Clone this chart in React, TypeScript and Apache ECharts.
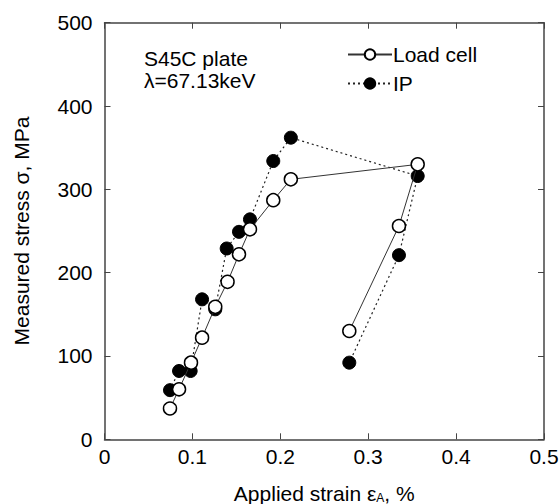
import React, { useEffect, useRef } from "react";
import * as echarts from "echarts";

const loadCellStrain = [0.0745, 0.0848, 0.0984, 0.111, 0.126, 0.14, 0.153, 0.1655, 0.192, 0.212, 0.3563, 0.335, 0.2785];
const loadCellStress = [37, 60, 92, 122, 159, 189, 222, 252, 287, 312, 330, 256, 130];
const ipStrain = [0.0745, 0.0848, 0.098, 0.111, 0.126, 0.139, 0.153, 0.1655, 0.192, 0.212, 0.3563, 0.335, 0.2785];
const ipStress = [59, 82, 82, 168, 156, 229, 249, 264, 334, 362, 316, 221, 92];
const xTicks = [0, 0.1, 0.2, 0.3, 0.4, 0.5];
const yTicks = [0, 100, 200, 300, 400, 500];

const FONT = "Liberation Sans, Arial, Helvetica, sans-serif";
const AX = "#444";
const FS = 21;

export default function App() {
  const ref = useRef<HTMLDivElement>(null);
  useEffect(() => {
    if (!ref.current) return;
    const chart = echarts.init(ref.current, undefined, { renderer: "svg" });
    const baseAxis = {
      axisLine: { show: true, onZero: false, lineStyle: { color: AX, width: 1.5 } },
      axisTick: { show: true, inside: true, length: 6, lineStyle: { color: AX, width: 1 } },
      splitLine: { show: false },
    };
    chart.setOption({
      animation: false,
      backgroundColor: "#fff",
      textStyle: { fontFamily: FONT },
      grid: { left: 104.5, right: 16, top: 22.7, bottom: 64.7, containLabel: false, outerBoundsMode: "none" },
      legend: {
        left: 342,
        top: 39,
        orient: "vertical",
        itemWidth: 44,
        itemHeight: 13,
        itemGap: 8,
        textStyle: { fontFamily: FONT, fontSize: FS, color: "#000", padding: [0, 0, 0, -4] },
        data: ["Load cell", "IP"],
      },
      xAxis: [
        {
          type: "value",
          min: 0,
          max: 0.5,
          interval: 0.1,
          ...baseAxis,
          axisLabel: {
            color: "#000",
            fontSize: FS,
            fontFamily: FONT,
            margin: 7,
            formatter: (v: number) => {
              const t = xTicks.find((x) => Math.abs(x - v) < 1e-9);
              return t === undefined ? "" : String(t);
            },
          },
          name: "Applied strain ε{sub|A}, %",
          nameLocation: "middle",
          nameGap: 44,
          nameTextStyle: {
            color: "#000",
            fontSize: FS,
            fontFamily: FONT,
            rich: { sub: { fontSize: 12, verticalAlign: "bottom", padding: [8, 0, 0, 0], fontFamily: FONT, color: "#000" } },
          },
        },
        {
          type: "value",
          position: "top",
          min: 0,
          max: 0.5,
          interval: 0.1,
          ...baseAxis,
          axisLabel: { show: false },
        },
      ],
      yAxis: [
        {
          type: "value",
          min: 0,
          max: 500,
          interval: 100,
          ...baseAxis,
          axisLabel: {
            color: "#000",
            fontSize: FS,
            fontFamily: FONT,
            margin: 12,
            formatter: (v: number) => (yTicks.includes(v) ? String(v) : ""),
          },
          name: "Measured stress σ, MPa",
          nameLocation: "middle",
          nameGap: 73,
          nameTextStyle: { color: "#000", fontSize: FS, fontFamily: FONT },
        },
        {
          type: "value",
          position: "right",
          min: 0,
          max: 500,
          interval: 100,
          ...baseAxis,
          axisLabel: { show: false },
        },
      ],
      graphic: [
        {
          type: "text",
          left: 144,
          top: 47,
          style: { text: "S45C plate\nλ=67.13keV", font: `${FS}px ${FONT}`, fill: "#000", lineHeight: 22 },
        },
      ],
      series: [
        {
          name: "IP",
          type: "line",
          data: ipStrain.map((x, i) => [x, ipStress[i]]),
          symbol: "circle",
          symbolSize: 13,
          lineStyle: { color: "#222", width: 1.2, type: [2, 3] },
          itemStyle: { color: "#000", borderColor: "#000", borderWidth: 1 },
          z: 2,
        },
        {
          name: "Load cell",
          type: "line",
          data: loadCellStrain.map((x, i) => [x, loadCellStress[i]]),
          symbol: "circle",
          symbolSize: 13,
          lineStyle: { color: "#333", width: 1 },
          itemStyle: { color: "#fff", borderColor: "#000", borderWidth: 1.5 },
          z: 3,
        },
      ],
    });
    return () => chart.dispose();
  }, []);
  return <div ref={ref} style={{ width: 560, height: 504, position: "absolute", left: 0, top: 0 }} />;
}
